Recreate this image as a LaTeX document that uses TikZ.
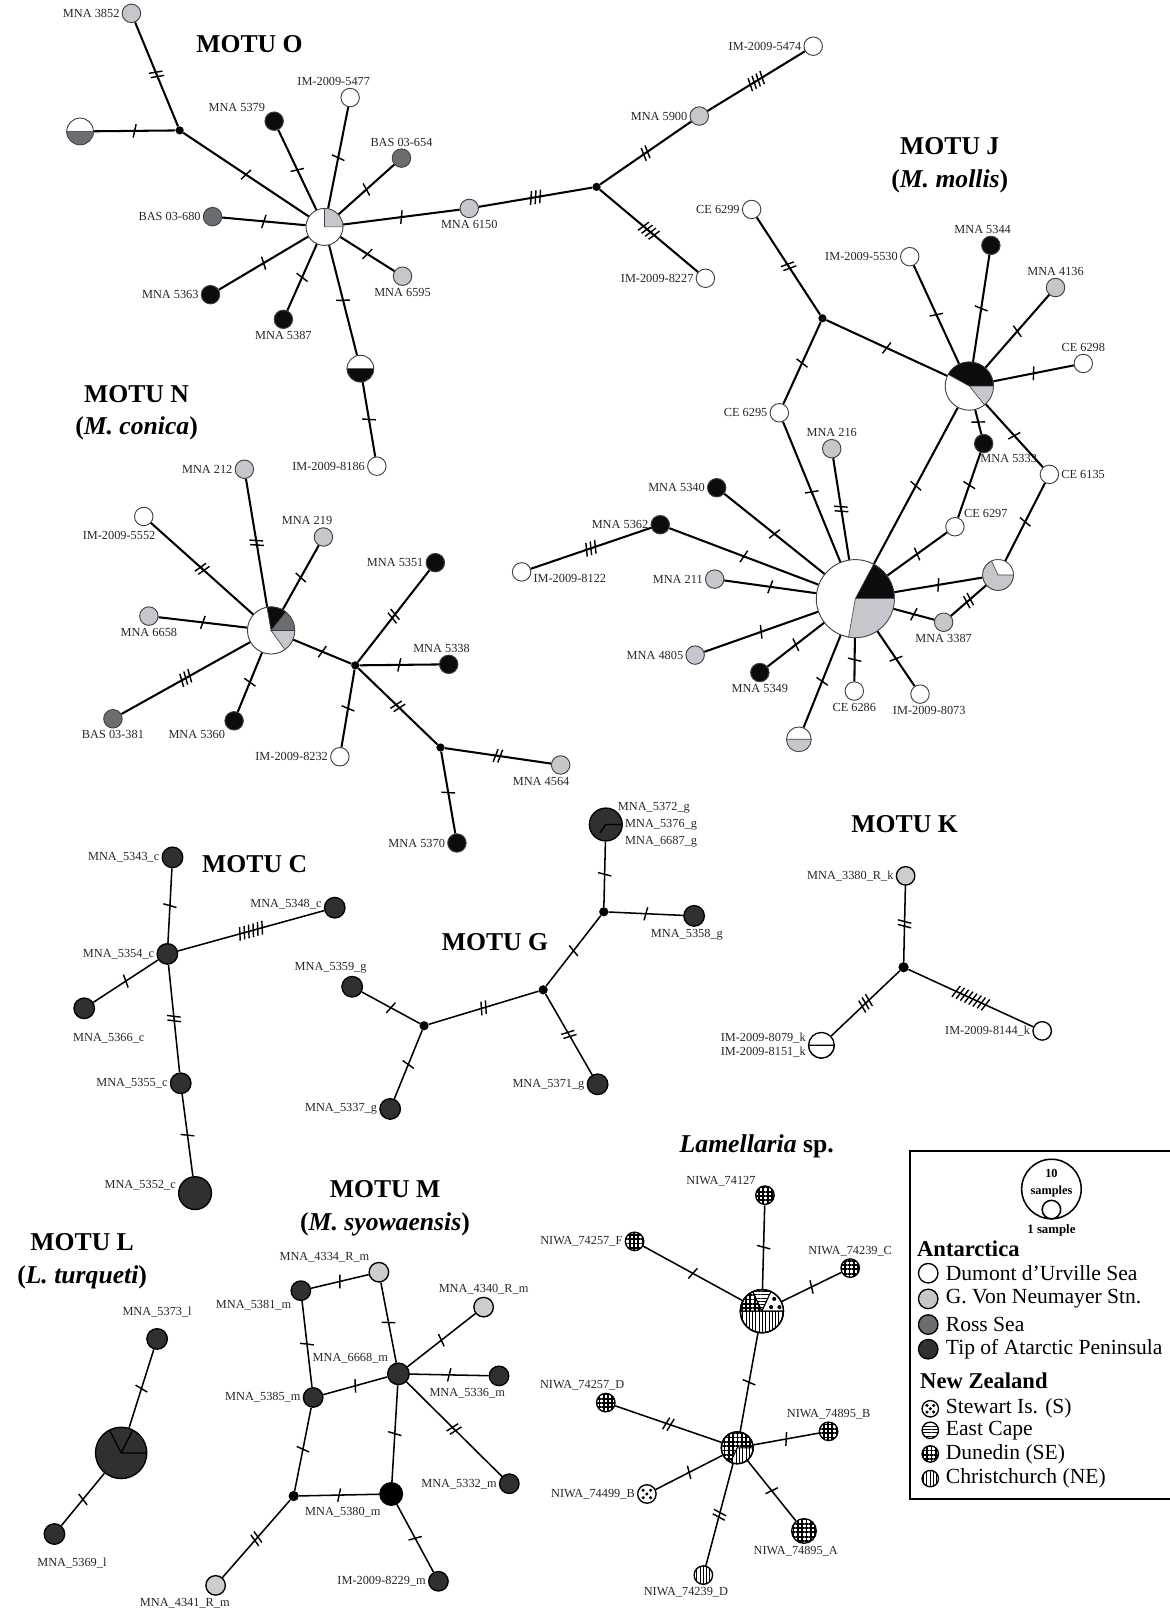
\documentclass[tikz,border=0pt]{standalone}
\usepackage{fontspec}
\setmainfont{Liberation Serif}
\usetikzlibrary{positioning,decorations.markings,patterns.meta}
\definecolor{colNeu}{RGB}{198,199,205}
\definecolor{colRoss}{RGB}{106,110,114}
\definecolor{colTip}{RGB}{12,12,12}
\definecolor{colTipDk}{RGB}{48,48,48}
\definecolor{colPale}{RGB}{205,205,205}
\tikzset{
hap/.style={circle,draw=black!75,line width=0.9pt,inner sep=0pt,minimum size=#1},
hap/.default={18pt},
haplo/.style={circle,draw=black,line width=1.3pt,inner sep=0pt,minimum size=#1},
haplo/.default={20pt},
median/.style={circle,fill=black,inner sep=0pt,minimum size=#1},
median/.default={8pt},
dumont/.style={fill=white},
neumayer/.style={fill=colNeu},
rosssea/.style={fill=colRoss},
peninsula/.style={fill=colTip},
peninsula dark/.style={fill=colTipDk},
pale/.style={fill=colPale},
dunedin/.style={pattern={Hatch[angle=0,distance=4.2pt,line width=1.8pt]}},
eastcape/.style={pattern={Lines[angle=0,distance=3.2pt,line width=0.6pt]}},
christ/.style={pattern={Lines[angle=90,distance=3.2pt,line width=0.6pt]}},
link/.style={line width=2pt},
linklo/.style={line width=1.5pt},
cuts/.style={postaction={decorate,decoration={markings,
  mark=at position 0.5 with {\foreach \k in {1,...,#1}
  {\draw[line width=1.4pt,line cap=butt] ({(\k-(#1+1)/2)*4.5pt-1.5pt},-6.5pt) -- ({(\k-(#1+1)/2)*4.5pt+1.5pt},6.5pt);}}}}},
lab/.style={font=\fontsize{12}{13}\selectfont,text=black!85,inner sep=2pt},
motu/.style={font=\fontsize{25}{32}\selectfont\bfseries,align=center},
legtxt/.style={font=\fontsize{21}{24}\selectfont,anchor=west,inner sep=0pt},
leghead/.style={font=\fontsize{22}{24}\selectfont\bfseries,anchor=west,inner sep=0pt},
}
% pie wedge on a haplotype circle: node, radius, start, end, fill
\newcommand\hapslice[5]{\path[draw=black!75,line width=0.6pt,#5] (#1.center) -- ++(#3:#2pt) arc[start angle=#3,end angle=#4,radius=#2pt] -- cycle;}
\newcommand\stewdots[2]{\foreach \dx/\dy in {-1/-1,1/-1,0/0,-1/1,1/1}
  {\fill ([shift={({\dx*#2},{\dy*#2})}]#1.center) circle[radius=1.7pt];}}

\begin{document}
\begin{tikzpicture}[x=1pt,y=-1pt,every label/.style={lab}]
\useasboundingbox (0,0) rectangle (1139,1568);

% ---------------- MOTU O
\node[motu] (tO) at (243,43) {MOTU O};
\node[hap,neumayer] (o3852) [label=left:MNA 3852] at (128,13) {};
\node[hap=26pt,dumont] (hO1) at (78,128) {};
\node[median] (medO1) at (175,127) {};
\node[hap=36pt,dumont] (cO) at (316,221) {};
\node[hap,peninsula] (o5379) [label=above left:MNA 5379] at (267,118) {};
\node[hap,dumont] (o5477) [label={[xshift=-16pt]above:IM-2009-5477}] at (341,95) {};
\node[hap,rosssea] (o654) [label=above:BAS 03-654] at (391,154) {};
\node[hap,neumayer] (o6150) [label=below:MNA 6150] at (457,203) {};
\node[hap,rosssea] (o680) [label=left:BAS 03-680] at (207,211) {};
\node[hap,peninsula] (o5363) [label=left:MNA 5363] at (205,287) {};
\node[hap,peninsula] (o5387) [label=below:MNA 5387] at (276,311) {};
\node[hap,neumayer] (o6595) [label=below:MNA 6595] at (392,269) {};
\node[hap=26pt,dumont] (hO2) at (351,359) {};
\node[hap,dumont] (o8186) [label=left:IM-2009-8186] at (367,454) {};
\node[median] (medO2) at (581,182) {};
\node[hap,neumayer] (o5900) [label=left:MNA 5900] at (681,113) {};
\node[hap,dumont] (o5474) [label=left:IM-2009-5474] at (792,45) {};
\node[hap,dumont] (o8227) [label=left:IM-2009-8227] at (687,271) {};
\hapslice{cO}{18}{0}{90}{fill=colNeu}
\hapslice{hO1}{13}{180}{360}{fill=colRoss}
\hapslice{hO2}{13}{180}{360}{fill=colTip}

\path[link] (medO1) edge[cuts=2] (o3852) edge[cuts=1] (hO1) edge[cuts=1] (cO);
\path[link] (cO) edge[cuts=1] (o5379) edge[cuts=1] (o5477) edge[cuts=1] (o654)
  edge[cuts=1] (o6150) edge[cuts=1] (o6595) edge[cuts=1] (hO2)
  edge[cuts=1] (o5387) edge[cuts=1] (o5363) edge[cuts=1] (o680);
\path[link] (hO2) edge[cuts=1] (o8186);
\path[link] (medO2) edge[cuts=3] (o6150) edge[cuts=2] (o5900) edge[cuts=4] (o8227);
\path[link] (o5900) edge[cuts=4] (o5474);

% ---------------- MOTU J
\node[motu] (tJ) at (925,161) {MOTU J\\(\textit{M. mollis})};
\node[hap,dumont] (j6299) [label=left:CE 6299] at (732,204) {};
\node[median] (medJ) at (801,310) {};
\node[hap=47pt,dumont] (cJ1) at (944,376) {};
\node[hap,peninsula] (j5344) [label={[xshift=-8pt]above:MNA 5344}] at (965,239) {};
\node[hap,dumont] (j5530) [label=left:IM-2009-5530] at (886,250) {};
\node[hap,neumayer] (j4136) [label=above:MNA 4136] at (1028,280) {};
\node[hap,dumont] (j6298) [label=above:CE 6298] at (1055,354) {};
\node[hap,dumont] (j6295) [label=left:CE 6295] at (759,402) {};
\node[hap,neumayer] (j216) [label=above:MNA 216] at (810,437) {};
\node[hap,peninsula] (j5333) [label={[xshift=-12pt,yshift=-2pt]below right:MNA 5333}] at (958,432) {};
\node[hap,dumont] (j6135) [label=right:CE 6135] at (1022,462) {};
\node[hap,dumont] (j6297) [label=above right:CE 6297] at (930,513) {};
\node[hap=76pt,dumont] (cJ2) at (833,583) {};
\node[hap,peninsula] (j5340) [label=left:MNA 5340] at (698,475) {};
\node[hap,peninsula] (j5362) [label=left:MNA 5362] at (643,511) {};
\node[hap,dumont] (j8122) [label={[yshift=-6pt]right:IM-2009-8122}] at (508,557) {};
\node[hap,neumayer] (j211) [label=left:MNA 211] at (696,564) {};
\node[hap,neumayer] (j4805) [label=left:MNA 4805] at (677,638) {};
\node[hap,peninsula] (j5349) [label=below:MNA 5349] at (740,655) {};
\node[hap,dumont] (j6286) [label=below:CE 6286] at (832,673) {};
\node[hap,dumont] (j8073) [label={[xshift=9pt]below:IM-2009-8073}] at (896,676) {};
\node[hap=24pt,dumont] (hJ) at (778,720) {};
\node[hap,neumayer] (j3387) [label=below:MNA 3387] at (919,606) {};
\node[hap=30pt,neumayer] (pJ) at (972,560) {};
\hapslice{cJ1}{23.5}{0}{151}{fill=colTip}
\hapslice{cJ1}{23.5}{309}{360}{fill=colNeu}
\hapslice{cJ2}{38}{0}{62}{fill=colTip}
\hapslice{cJ2}{38}{260}{360}{fill=colNeu}
\hapslice{hJ}{12}{180}{360}{fill=colNeu}
\hapslice{pJ}{15}{0}{115}{fill=white}

\path[link] (medJ) edge[cuts=2] (j6299) edge[cuts=1] (cJ1) edge[cuts=1] (j6295);
\path[link] (cJ1) edge[cuts=1] (j5530) edge[cuts=1] (j5344) edge[cuts=1] (j4136)
  edge[cuts=1] (j6298) edge[cuts=1] (j5333) edge[cuts=1] (j6135) edge[cuts=1] (cJ2);
\path[link] (j5333) edge[cuts=1] (j6297);
\path[link] (j6135) edge[cuts=1] (pJ);
\path[link] (cJ2) edge[cuts=1] (j6295) edge[cuts=2] (j216) edge[cuts=1] (j6297)
  edge[cuts=1] (j5340) edge[cuts=1] (j5362) edge[cuts=1] (j211) edge[cuts=1] (j4805)
  edge[cuts=1] (j5349) edge[cuts=1] (hJ) edge[cuts=1] (j6286) edge[cuts=1] (j8073)
  edge[cuts=1] (j3387) edge[cuts=1] (pJ);
\path[link] (j5362) edge[cuts=3] (j8122);
\path[link] (pJ) edge[cuts=2] (j3387);

% ---------------- MOTU N
\node[motu] (tN) at (133,402) {MOTU N\\(\textit{M. conica})};
\node[hap,neumayer] (n212) [label=left:MNA 212] at (238,457) {};
\node[hap,dumont] (n5552) [label={[xshift=-24pt,yshift=-3pt]below:IM-2009-5552}] at (140,503) {};
\node[hap,neumayer] (n219) [label={[xshift=-16pt]above:MNA 219}] at (315,523) {};
\node[hap,neumayer] (n6658) [label=below:MNA 6658] at (145,600) {};
\node[hap=46pt,dumont] (cN) at (264,614) {};
\node[hap,rosssea] (n381) [label=below:BAS 03-381] at (110,700) {};
\node[hap,peninsula] (n5360) [label=below left:MNA 5360] at (228,702) {};
\node[hap,dumont] (n8232) [label=left:IM-2009-8232] at (331,737) {};
\node[median] (medN1) at (346,648) {};
\node[hap,peninsula] (n5351) [label=left:MNA 5351] at (424,548) {};
\node[hap,peninsula] (n5338) [label={[xshift=-7pt]above:MNA 5338}] at (437,647) {};
\node[median] (medN2) at (429,728) {};
\node[hap,neumayer] (n4564) [label={[xshift=-19pt]below:MNA 4564}] at (546,745) {};
\node[hap,peninsula] (n5370) [label=left:MNA 5370] at (445,821) {};
\hapslice{cN}{23}{51}{100}{fill=colTip}
\hapslice{cN}{23}{0}{51}{fill=colRoss}
\hapslice{cN}{23}{306}{360}{fill=colNeu}

\path[link] (cN) edge[cuts=2] (n212) edge[cuts=2] (n5552) edge[cuts=1] (n219)
  edge[cuts=1] (n6658) edge[cuts=3] (n381) edge[cuts=1] (n5360) edge[cuts=1] (medN1);
\path[link] (medN1) edge[cuts=2] (n5351) edge[cuts=1] (n5338) edge[cuts=1] (n8232) edge[cuts=2] (medN2);
\path[link] (medN2) edge[cuts=2] (n4564) edge[cuts=1] (n5370);

% ---------------- MOTU C
\node[motu] (tC) at (248,842) {MOTU C};
\node[haplo,peninsula dark] (c5343) [label=left:MNA\_5343\_c] at (168,835) {};
\node[haplo,peninsula dark] (c5354) [label=left:MNA\_5354\_c] at (163,929) {};
\node[haplo,peninsula dark] (c5348) [label={[yshift=3pt]left:MNA\_5348\_c}] at (326,884) {};
\node[haplo,peninsula dark] (c5366) [label={[xshift=24pt,yshift=-12pt]below:MNA\_5366\_c}] at (82,982) {};
\node[haplo,peninsula dark] (c5355) [label=left:MNA\_5355\_c] at (176,1055) {};
\node[haplo=32pt,peninsula dark] (c5352) [label={[yshift=8pt]left:MNA\_5352\_c}] at (190,1162) {};
\path[linklo] (c5354) edge[cuts=1] (c5343) edge[cuts=6] (c5348) edge[cuts=1] (c5366) edge[cuts=2] (c5355);
\path[linklo] (c5355) edge[cuts=1] (c5352);

% ---------------- MOTU G
\node[motu] (tG) at (482,918) {MOTU G};
\node[haplo=32pt,peninsula dark] (g5372) [label={[xshift=-7pt,yshift=16pt]right:MNA\_5372\_g},
  label=right:MNA\_5376\_g, label={[yshift=-17pt]right:MNA\_6687\_g}] at (590,803) {};
\draw[line width=1.3pt] (g5372.center) -- +(0:16pt) (g5372.center) -- +(235:10pt);
\node[median=9pt] (medG1) at (588,888) {};
\node[haplo,peninsula dark] (g5358) [label={[xshift=-7pt]below:MNA\_5358\_g}] at (676,892) {};
\node[haplo,peninsula dark] (g5359) [label={[xshift=-21pt]above:MNA\_5359\_g}] at (343,961) {};
\node[median=9pt] (medG2) at (413,999) {};
\node[median=9pt] (medG3) at (529,964) {};
\node[haplo,peninsula dark] (g5337) [label=left:MNA\_5337\_g] at (380,1080) {};
\node[haplo,peninsula dark] (g5371) [label=left:MNA\_5371\_g] at (582,1056) {};
\path[linklo] (medG1) edge[cuts=1] (g5372) edge[cuts=1] (g5358) edge[cuts=1] (medG3);
\path[linklo] (medG3) edge[cuts=2] (medG2) edge[cuts=2] (g5371);
\path[linklo] (medG2) edge[cuts=1] (g5359) edge[cuts=1] (g5337);

% ---------------- MOTU K
\node[motu] (tK) at (881,803) {MOTU K};
\node[haplo=18pt,pale] (k3380) [label=left:MNA\_3380\_R\_k] at (882,853) {};
\node[median=10pt] (medK) at (880,942) {};
\node[haplo=25pt,dumont] (k8079) [label={[align=right,font=\fontsize{12}{14}\selectfont]left:IM-2009-8079\_k\\IM-2009-8151\_k}] at (800,1018) {};
\node[haplo=18pt,dumont] (k8144) [label=left:IM-2009-8144\_k] at (1015,1004) {};
\hapslice{k8079}{12.5}{180}{360}{fill=white,draw=black,line width=1.3pt}
\path[linklo] (medK) edge[cuts=2] (k3380) edge[cuts=3] (k8079) edge[cuts=8] (k8144);

% ---------------- MOTU L
\node[motu] (tL) at (80,1228) {MOTU L\\(\textit{L. turqueti})};
\node[haplo,peninsula dark] (l5373) [label={[yshift=8pt]above:MNA\_5373\_l}] at (153,1304) {};
\node[haplo=50pt,peninsula dark] (lBig) at (118,1415) {};
\draw[line width=1.3pt] (lBig.center) -- +(0:25pt) (lBig.center) -- +(63:25pt) (lBig.center) -- +(117:25pt);
\node[haplo,peninsula dark] (l5369) [label={[xshift=17pt,yshift=-10pt]below:MNA\_5369\_l}] at (53,1494) {};
\path[linklo] (lBig) edge[cuts=1] (l5373) edge[cuts=1] (l5369);

% ---------------- MOTU M
\node[motu] (tM) at (375,1177) {MOTU M\\(\textit{M. syowaensis})};
\node[haplo=19pt,pale] (m4334) [label=above left:MNA\_4334\_R\_m] at (369,1239) {};
\node[haplo=19pt,peninsula dark] (m5381) [label=below left:MNA\_5381\_m] at (293,1257) {};
\node[haplo=19pt,pale] (m4340) [label=above:MNA\_4340\_R\_m] at (471,1273) {};
\node[haplo=21pt,peninsula dark] (m6668) [label=above left:MNA\_6668\_m] at (388,1338) {};
\node[haplo=19pt,peninsula dark] (m5336) [label={[xshift=-31pt]below:MNA\_5336\_m}] at (486,1340) {};
\node[haplo=19pt,peninsula dark] (m5385) [label=left:MNA\_5385\_m] at (305,1361) {};
\node[haplo=19pt,peninsula dark] (m5332) [label=left:MNA\_5332\_m] at (496,1445) {};
\node[median=10pt] (medM) at (286,1457) {};
\node[haplo=22pt,fill=black] (m5380) [label={[yshift=-3pt]below left:MNA\_5380\_m}] at (381,1455) {};
\node[haplo=19pt,pale] (m4341) [label={[xshift=-30pt]below:MNA\_4341\_R\_m}] at (210,1544) {};
\node[haplo=19pt,peninsula dark] (m8229) [label=left:IM-2009-8229\_m] at (427,1540) {};
\path[linklo] (m4334) edge[cuts=1] (m5381) edge[cuts=1] (m6668);
\path[linklo] (m5385) edge[cuts=1] (m5381) edge[cuts=1] (m6668) edge[cuts=1] (medM);
\path[linklo] (m6668) edge[cuts=1] (m4340) edge[cuts=1] (m5336) edge[cuts=2] (m5332) edge[cuts=1] (m5380);
\path[linklo] (medM) edge[cuts=1] (m5380) edge[cuts=2] (m4341);
\path[linklo] (m5380) edge[cuts=1] (m8229);

% ---------------- Lamellaria
\node[motu] (tLam) at (737,1116) {\textit{Lamellaria} sp.};
\node[haplo=18pt,dunedin] (la74127) [label=above left:NIWA\_74127] at (745,1164) {};
\node[haplo=18pt,dunedin] (la74257F) [label=left:NIWA\_74257\_F] at (618,1209) {};
\node[haplo=18pt,dunedin] (la74239C) [label=above:NIWA\_74239\_C] at (828,1235) {};
\node[haplo=42pt,dumont] (laA) at (742,1277) {};
\node[haplo=18pt,dunedin] (la74257D) [label={[xshift=-23pt]above:NIWA\_74257\_D}] at (590,1366) {};
\node[haplo=31pt,dunedin] (laB) at (718,1410) {};
\node[haplo=18pt,dunedin] (la74895B) [label=above:NIWA\_74895\_B] at (807,1394) {};
\node[haplo=18pt,dumont] (la74499B) [label=left:NIWA\_74499\_B] at (630,1455) {};
\node[haplo=24pt,dunedin] (la74895A) [label={[xshift=-8pt]below:NIWA\_74895\_A}] at (783,1491) {};
\node[haplo=18pt,christ] (la74239D) [label={[xshift=-17pt]below:NIWA\_74239\_D}] at (685,1534) {};
\hapslice{laA}{21}{115}{180}{dunedin,draw=black,line width=1pt}
\hapslice{laA}{21}{65}{115}{eastcape,draw=black,line width=1pt}
\hapslice{laA}{21}{0}{65}{fill=white,draw=black,line width=1pt}
\hapslice{laA}{21}{180}{360}{christ,draw=black,line width=1pt}
\draw[line width=1.3pt] (laA) circle[radius=21pt];
\foreach \dx/\dy in {12/-12,9/-4,17/-4} \fill ([shift={(\dx,\dy)}]laA.center) circle[radius=2pt];
\hapslice{laB}{15.5}{245}{360}{preaction={fill=white},christ,draw=black,line width=1pt}
\draw[line width=1.3pt] (laB) circle[radius=15.5pt];
\stewdots{la74499B}{3.6}
\path[linklo] (laA) edge[cuts=1] (la74127) edge[cuts=1] (la74257F) edge[cuts=1] (la74239C) edge[cuts=1] (laB);
\path[linklo] (laB) edge[cuts=2] (la74257D) edge[cuts=1] (la74895B) edge[cuts=1] (la74499B)
  edge[cuts=1] (la74895A) edge[cuts=2] (la74239D);

% ---------------- legend
\draw[line width=1.6pt] (886,1121) rectangle (1150,1460);
\node[haplo=58pt,dumont,line width=1.5pt] (keyTen) at (1024,1158) {};
\node[font=\fontsize{12}{13}\selectfont\bfseries] (keyTenTxt) at (1024,1143) {10};
\node[font=\fontsize{12}{13}\selectfont\bfseries] (keySamp) at (1024,1160) {samples};
\node[haplo=18pt,dumont,line width=1.5pt] (keyOne) at (1024,1178) {};
\node[font=\fontsize{12.5}{13}\selectfont\bfseries] (keyOneTxt) at (1024,1198) {1 sample};
\node[leghead] (hdAnt) at (893,1216) {Antarctica};
\node[haplo=19pt,dumont] (keyDu) at (904,1240) {};
\node[legtxt] (txtDu) at (921,1240) {Dumont d’Urville Sea};
\node[haplo=19pt,neumayer] (keyNeu) at (904,1265) {};
\node[legtxt] (txtNeu) at (921,1265) {G. Von Neumayer Stn.};
\node[haplo=19pt,rosssea] (keyRoss) at (904,1290) {};
\node[legtxt] (txtRoss) at (921,1290) {Ross Sea};
\node[haplo=19pt,peninsula dark] (keyTip) at (904,1314) {};
\node[legtxt] (txtTip) at (921,1314) {Tip of Atarctic Peninsula};
\node[leghead] (hdNZ) at (896,1345) {New Zealand};
\node[haplo=16pt,dumont] (keyStew) at (906,1372) {};
\stewdots{keyStew}{3.2}
\node[legtxt] (txtStew) at (921,1372) {Stewart Is. (S)};
\node[haplo=16pt,eastcape] (keyEast) at (906,1393) {};
\node[legtxt] (txtEast) at (921,1393) {East Cape};
\node[haplo=16pt,dunedin] (keyDun) at (906,1416) {};
\node[legtxt] (txtDun) at (921,1416) {Dunedin (SE)};
\node[haplo=16pt,christ] (keyChr) at (906,1440) {};
\node[legtxt] (txtChr) at (921,1440) {Christchurch (NE)};
\end{tikzpicture}
\end{document}
